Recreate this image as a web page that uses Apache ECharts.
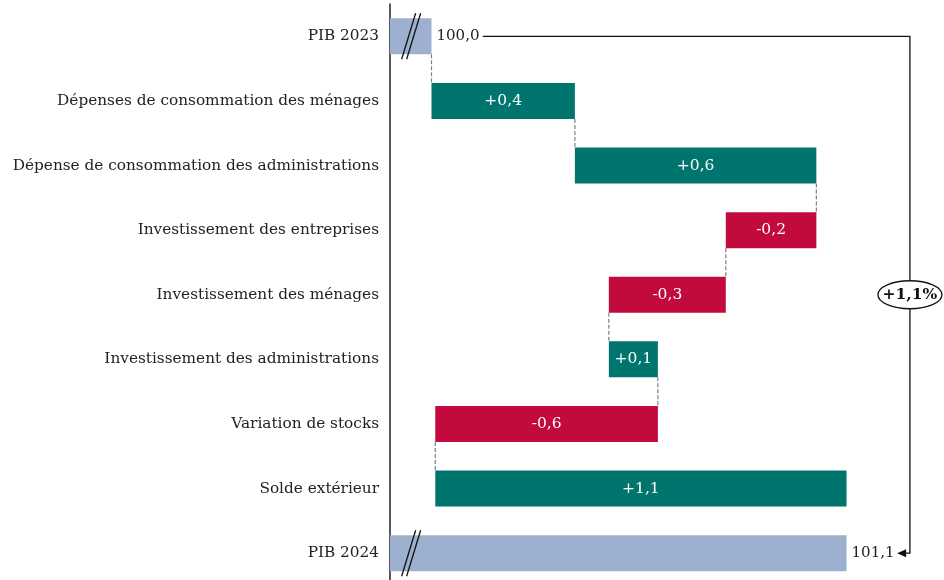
<!DOCTYPE html>
<html>
<head>
<meta charset="utf-8">
<script src="https://cdn.jsdelivr.net/npm/echarts@6/dist/echarts.min.js"></script>
<style>
  html, body { margin: 0; padding: 0; background: #fff; overflow: hidden; }
  #chart { width: 944px; height: 588px; }
</style>
</head>
<body>
<div id="chart"></div>
<script>
  // categories (top to bottom)
  var categories = [
    'PIB 2023',
    'Dépenses de consommation des ménages',
    'Dépense de consommation des administrations',
    'Investissement des entreprises',
    'Investissement des ménages',
    'Investissement des administrations',
    'Variation de stocks',
    'Solde extérieur',
    'PIB 2024'
  ];
  var pibStart = 100.0;
  // contributions (points de PIB), rows 1..7
  var contributions = [0.38, 0.64, -0.24, -0.31, 0.13, -0.59, 1.09];
  var growthLabel = '+1,1%';

  var axisMin = 99.89, axisMax = 101.30;
  var colUp = '#00756E', colDown = '#C20A3C', colTotal = '#9EB0D0';
  var font = '"DejaVu Serif", "Liberation Serif", serif';

  function fmt(v, sign) {
    var s = v.toFixed(1).replace('.', ',');
    return (sign && v > 0 ? '+' : '') + s;
  }

  // build waterfall
  var baseData = [], deltaData = [], levels = [];
  var cum = pibStart;
  baseData.push({ value: pibStart, itemStyle: { color: colTotal }, label: { show: true } });
  deltaData.push('-');
  levels.push(cum);
  contributions.forEach(function (c) {
    var lo = c >= 0 ? cum : cum + c;
    baseData.push({ value: lo, itemStyle: { color: 'rgba(0,0,0,0)' }, label: { show: false } });
    deltaData.push({ value: Math.abs(c), raw: c, itemStyle: { color: c >= 0 ? colUp : colDown } });
    cum += c;
    levels.push(cum);
  });
  var pibEnd = cum;
  baseData.push({ value: pibEnd, itemStyle: { color: colTotal }, label: { show: true } });
  deltaData.push('-');

  var connectors = [];
  for (var i = 0; i < levels.length - 1; i++) connectors.push([levels[i], i]);

  var barH = 36;
  var chart = echarts.init(document.getElementById('chart'));
  chart.setOption({
    animation: false,
    textStyle: { fontFamily: font },
    grid: { left: 390, right: 22, top: 4, height: 581.5 },
    xAxis: {
      type: 'value', min: axisMin, max: axisMax,
      show: false
    },
    yAxis: {
      type: 'category', inverse: true, data: categories,
      axisLine: { show: true, lineStyle: { color: '#222', width: 1.5 } },
      axisTick: { show: false },
      axisLabel: { margin: 11, color: '#222', fontSize: 15.3, fontFamily: font }
    },
    series: [
      {
        type: 'bar', stack: 'w', barWidth: barH, data: baseData,
        label: {
          position: 'right', distance: 5, color: '#222', fontSize: 15, fontFamily: font,
          formatter: function (p) { return fmt(p.value, false); }
        }
      },
      {
        type: 'bar', stack: 'w', barWidth: barH, data: deltaData,
        label: {
          show: true, position: 'inside', color: '#fff', fontSize: 15.5, fontFamily: font,
          formatter: function (p) { return fmt(p.data.raw, true); }
        }
      },
      {
        // pointillés entre barres
        type: 'custom', data: connectors, z: 1,
        renderItem: function (params, api) {
          var a = api.coord([api.value(0), api.value(1)]);
          var b = api.coord([api.value(0), api.value(1) + 1]);
          return {
            type: 'line',
            shape: { x1: a[0], y1: a[1] + barH / 2, x2: b[0], y2: b[1] - barH / 2 },
            style: { stroke: '#808080', lineWidth: 1.2, lineDash: [4, 2] }
          };
        }
      },
      {
        // marques de rupture d'axe
        type: 'custom', data: [[99.946, 0], [99.946, 8]], z: 5,
        renderItem: function (params, api) {
          var c = api.coord([api.value(0), api.value(1)]);
          var mk = function (off) {
            return {
              type: 'line',
              shape: { x1: c[0] - 7 + off, y1: c[1] + 23, x2: c[0] + 7 + off, y2: c[1] - 23 },
              style: { stroke: '#111', lineWidth: 1.3 }
            };
          };
          return { type: 'group', children: [mk(-2.5), mk(2.5)] };
        }
      },
      {
        // flèche +1,1%
        type: 'custom', data: [[100.136, 101.268, 101.234]], z: 6, clip: false,
        renderItem: function (params, api) {
          var top = api.coord([api.value(0), 0]);
          var right = api.coord([api.value(1), 0]);
          var bot = api.coord([api.value(1), 8]);
          var tip = api.coord([api.value(2), 8]);
          var x = right[0], y0 = top[1], y1 = bot[1];
          var ym = (y0 + y1) / 2;
          return {
            type: 'group',
            children: [
              { type: 'polyline', shape: { points: [[top[0], y0], [x, y0], [x, y1], [tip[0] + 6, y1]] },
                style: { stroke: '#111', lineWidth: 1.3, fill: null } },
              { type: 'polygon', shape: { points: [[tip[0], y1], [tip[0] + 9, y1 - 4], [tip[0] + 9, y1 + 4]] },
                style: { fill: '#111' } },
              { type: 'ellipse', shape: { cx: x, cy: ym, rx: 32, ry: 14 },
                style: { fill: '#fff', stroke: '#111', lineWidth: 1.3 } },
              { type: 'text', x: x, y: ym,
                style: { text: growthLabel, fill: '#111', font: 'bold 15.5px ' + font, align: 'center', verticalAlign: 'middle' } }
            ]
          };
        }
      }
    ]
  });
</script>
</body>
</html>
